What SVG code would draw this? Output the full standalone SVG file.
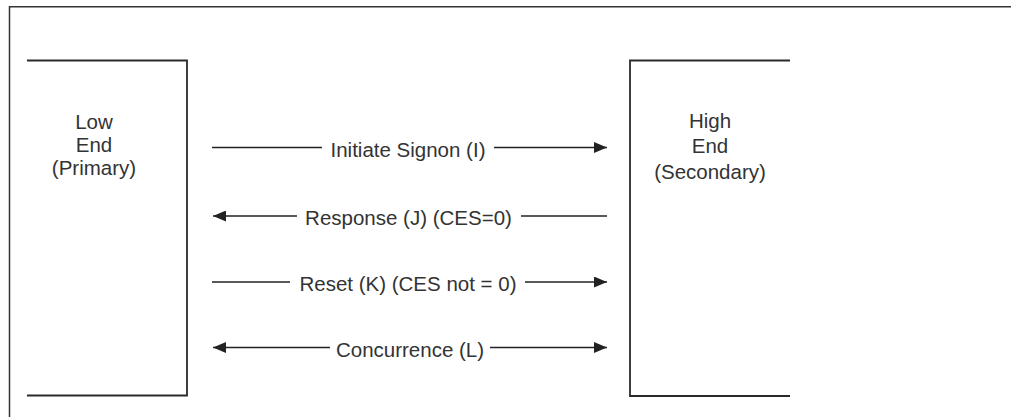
<svg xmlns="http://www.w3.org/2000/svg" width="1011" height="417" viewBox="0 0 1011 417">
  <style>
    .frame { fill: none; stroke: #333; stroke-width: 1.5; }
    .box { fill: none; stroke: #2a2a2a; stroke-width: 1.8; }
    .conn { stroke: #222; stroke-width: 1.5; fill: none; }
    .lbl { font-family: "Liberation Sans", Arial, sans-serif; font-size: 20.5px; fill: #333; text-anchor: middle; }
  </style>
  <defs>
    <marker id="ah" viewBox="0 0 13 11" refX="13" refY="5.5" markerWidth="13" markerHeight="11" markerUnits="userSpaceOnUse" orient="auto-start-reverse">
      <path d="M0,0 L13,5.5 L0,11 Z" fill="#222"/>
    </marker>
  </defs>
  <rect width="1011" height="417" fill="#fff"/>
  <g id="frame">
    <polyline class="frame" points="9.5,417 9.5,6.8 1011,6.8"/>
  </g>
  <g id="low-end">
    <polyline class="box" points="27,60.5 187,60.5 187,395.5 27,395.5"/>
    <text class="lbl" x="94" y="128.5">Low</text>
    <text class="lbl" x="94" y="151.5">End</text>
    <text class="lbl" x="94" y="175">(Primary)</text>
  </g>
  <g id="high-end">
    <polyline class="box" points="790,60.5 630,60.5 630,396 790,396"/>
    <text class="lbl" x="710" y="127.5">High</text>
    <text class="lbl" x="710" y="153">End</text>
    <text class="lbl" x="710" y="178.5">(Secondary)</text>
  </g>
  <g id="connectors">
    <line class="conn" x1="212" y1="147.5" x2="322" y2="147.5"/>
    <line class="conn" x1="494" y1="147.5" x2="607" y2="147.5" marker-end="url(#ah)"/>
    <text class="lbl" x="408" y="156.5">Initiate Signon (I)</text>

    <line class="conn" x1="297" y1="216" x2="213" y2="216" marker-end="url(#ah)"/>
    <line class="conn" x1="521" y1="216" x2="607" y2="216"/>
    <text class="lbl" x="408.5" y="225">Response (J) (CES=0)</text>

    <line class="conn" x1="212" y1="282" x2="290" y2="282"/>
    <line class="conn" x1="525" y1="282" x2="607" y2="282" marker-end="url(#ah)"/>
    <text class="lbl" x="408" y="291">Reset (K) (CES not = 0)</text>

    <line class="conn" x1="330" y1="347.5" x2="213" y2="347.5" marker-end="url(#ah)"/>
    <line class="conn" x1="490" y1="347.5" x2="607" y2="347.5" marker-end="url(#ah)"/>
    <text class="lbl" x="410" y="356.5">Concurrence (L)</text>
  </g>
</svg>
